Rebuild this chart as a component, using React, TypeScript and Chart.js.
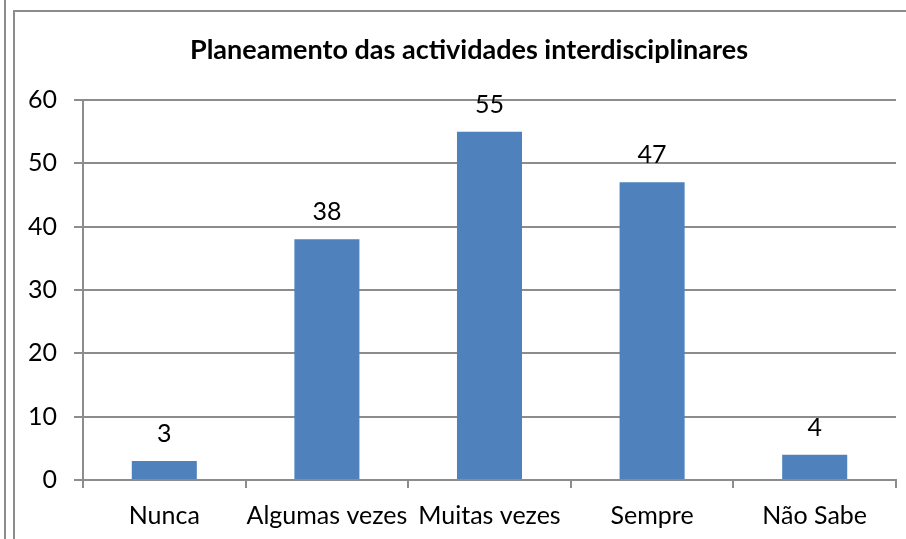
import React, { useEffect, useRef } from "react";
import { Chart, registerables } from "chart.js";

Chart.register(...registerables);

const TITLE = "Planeamento das actividades interdisciplinares";
const categories = ["Nunca", "Algumas vezes", "Muitas vezes", "Sempre", "Não Sabe"];
const values = [3, 38, 55, 47, 4];
const yTicks = [0, 10, 20, 30, 40, 50, 60];

const FONT = "Lato, 'Noto Sans', sans-serif";
const GRID = "#8c8c8c";

const framePlugin = {
  id: "frame",
  beforeDraw(chart: any) {
    const ctx = chart.ctx;
    ctx.save();
    ctx.fillStyle = "#ffffff";
    ctx.fillRect(0, 0, chart.width, chart.height);
    ctx.strokeStyle = "#8c8c8c";
    ctx.lineWidth = 2;
    ctx.beginPath();
    ctx.moveTo(5, 0);
    ctx.lineTo(5, chart.height);
    ctx.moveTo(14, chart.height);
    ctx.lineTo(14, 11);
    ctx.lineTo(chart.width, 11);
    ctx.stroke();
    ctx.fillStyle = "#000";
    ctx.font = "bold 27px " + FONT;
    ctx.textAlign = "center";
    ctx.textBaseline = "alphabetic";
    ctx.fillText(TITLE, 469, 59);
    ctx.restore();
  },
  afterDatasetsDraw(chart: any) {
    const ctx = chart.ctx;
    const meta = chart.getDatasetMeta(0);
    ctx.save();
    ctx.fillStyle = "#000";
    ctx.font = "25px " + FONT;
    ctx.textAlign = "center";
    ctx.textBaseline = "alphabetic";
    meta.data.forEach((bar: any, i: number) => {
      ctx.fillText(String(values[i]), bar.x, bar.y - 19);
    });
    ctx.restore();
  },
};

export default function App() {
  const ref = useRef<HTMLCanvasElement>(null);
  useEffect(() => {
    if (!ref.current) return;
    const chart = new Chart(ref.current, {
      type: "bar",
      data: {
        labels: categories,
        datasets: [
          {
            data: values,
            backgroundColor: "#4f81bd",
            borderWidth: 0,
            barPercentage: 0.4,
            categoryPercentage: 1,
          },
        ],
      },
      options: {
        animation: false,
        responsive: false,
        maintainAspectRatio: false,
        layout: { padding: { top: 100, right: 10, left: 0, bottom: 0 } },
        plugins: {
          legend: { display: false },
          title: { display: false },
          tooltip: { enabled: false },
        },
        scales: {
          x: {
            offset: true,
            grid: {
              offset: true,
              drawOnChartArea: false,
              drawTicks: true,
              tickLength: 8,
              color: GRID,
              lineWidth: 2,
            },
            border: { color: GRID, width: 2 },
            ticks: {
              color: "#000",
              font: { family: FONT, size: 25 },
              padding: 13,
              maxRotation: 0,
              autoSkip: false,
            },
            afterFit: (s: any) => {
              s.height = 59;
            },
          },
          y: {
            min: 0,
            max: 60,
            afterBuildTicks: (s: any) => {
              s.ticks = yTicks.map((v) => ({ value: v }));
            },
            grid: {
              color: GRID,
              lineWidth: 2,
              tickLength: 9,
            },
            border: { color: GRID, width: 2 },
            ticks: {
              color: "#000",
              font: { family: FONT, size: 25 },
              padding: 17,
            },
            afterFit: (s: any) => {
              s.width = 83;
            },
          },
        },
      },
      plugins: [framePlugin],
    });
    return () => chart.destroy();
  }, []);
  return (
    <div style={{ position: "absolute", left: 0, top: 0, width: 906, height: 539 }}>
      <canvas ref={ref} width={906} height={539} style={{ display: "block" }} />
    </div>
  );
}
